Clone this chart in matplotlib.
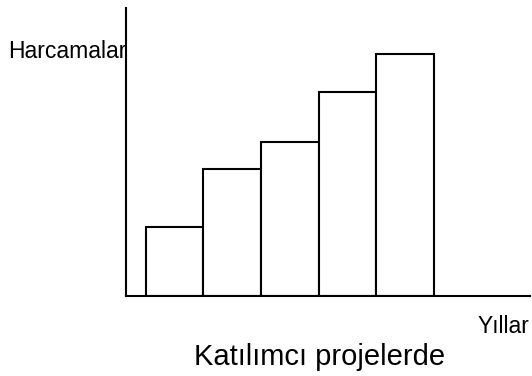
import matplotlib as mpl
mpl.use('Agg')
mpl.rcParams['font.family'] = ['Liberation Sans', 'DejaVu Sans']
import matplotlib.pyplot as plt

# Data
years = [1, 2, 3, 4, 5]
spending = [2.4, 4.4, 5.35, 7.08, 8.4]

W, H = 532, 376

fig = plt.figure(figsize=(W / 100, H / 100), dpi=100)
ax = fig.add_axes([126 / W, 80 / H, 404 / W, 288 / H])

ax.bar(years, spending, width=1.0, facecolor='white', edgecolor='black', linewidth=1.5)

ax.set_xlim(0.158, 7.17)
ax.set_ylim(0, 10)
ax.spines['top'].set_visible(False)
ax.spines['right'].set_visible(False)
ax.spines['left'].set_linewidth(1.5)
ax.spines['bottom'].set_linewidth(1.5)
ax.set_xticks([])
ax.set_yticks([])

fig.text(126 / W, 1 - 58 / H, 'Harcamalar', ha='right', va='baseline', fontsize=16.5)
fig.text(478 / W, 1 - 333 / H, 'Yıllar', ha='left', va='baseline', fontsize=16.5)
fig.text(320 / W, 1 - 365 / H, 'Katılımcı projelerde', ha='center', va='baseline', fontsize=21)

fig.savefig('out.png', dpi=100)
